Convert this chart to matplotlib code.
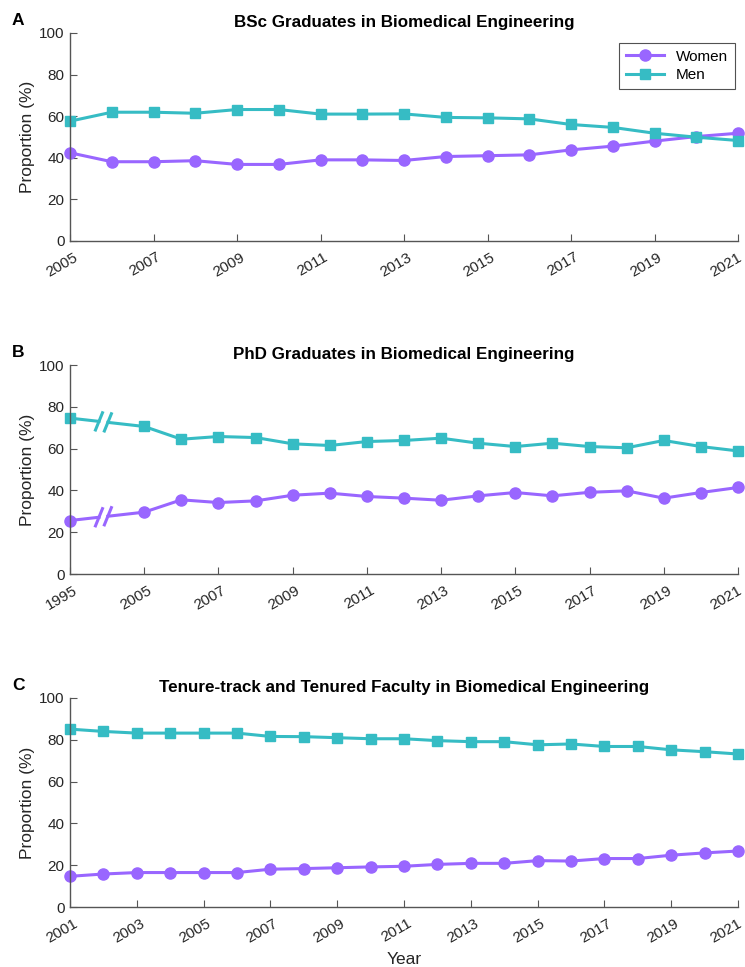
import numpy as np
import matplotlib
matplotlib.use("Agg")
import matplotlib.pyplot as plt
import matplotlib.transforms as mtransforms

plt.rcParams['font.family'] = ['Liberation Sans', 'DejaVu Sans']

purple = '#9966FF'
teal = '#36BCC4'

# panel A: BSc graduates
bsc_years = list(range(2005, 2022))
bsc_women = [42.4, 38.1, 38.1, 38.6, 36.8, 36.8, 39.0, 39.0, 38.7, 40.6, 41.0, 41.4, 43.8, 45.6, 48.0, 50.2, 51.8]
bsc_men = [57.6, 61.9, 61.9, 61.4, 63.2, 63.2, 61.0, 61.0, 61.1, 59.4, 59.2, 58.7, 56.0, 54.6, 51.8, 49.9, 48.3]

# panel B: PhD graduates (1995, then 2005-2021, axis broken)
phd_years = [1995] + list(range(2005, 2022))
phd_women = [25.6, 29.6, 35.5, 34.2, 35.0, 37.7, 38.7, 37.1, 36.3, 35.3, 37.4, 39.0, 37.4, 39.1, 39.8, 36.3, 39.0, 41.4]
phd_men = [74.6, 70.6, 64.5, 65.8, 65.3, 62.3, 61.5, 63.4, 63.9, 65.0, 62.6, 61.0, 62.6, 61.0, 60.4, 63.9, 61.0, 58.9]

# panel C: tenure-track and tenured faculty
fac_years = list(range(2001, 2022))
fac_women = [14.7, 15.8, 16.5, 16.5, 16.5, 16.5, 18.1, 18.4, 18.8, 19.2, 19.5, 20.4, 20.9, 20.9, 22.2, 22.0, 23.2, 23.2, 24.8, 25.9, 26.8]
fac_men = [85.1, 84.0, 83.2, 83.2, 83.2, 83.2, 81.6, 81.5, 81.0, 80.5, 80.5, 79.6, 79.1, 79.1, 77.6, 78.0, 76.8, 76.8, 75.2, 74.3, 73.2]

lw = 2.2
wkw = dict(color=purple, marker='o', markersize=8, linewidth=lw, clip_on=False, label='Women')
mkw = dict(color=teal, marker='s', markersize=6.5, linewidth=lw, clip_on=False, label='Men')
gray = '#262626'


def style(ax, title, letter):
    ax.set_ylim(0, 100)
    ax.set_yticks(range(0, 101, 20))
    for s in ['top', 'right']:
        ax.spines[s].set_visible(False)
    for s in ['left', 'bottom']:
        ax.spines[s].set_color('#555555')
        ax.spines[s].set_linewidth(1.0)
    ax.tick_params(direction='in', length=5, color='#555555', labelcolor=gray, labelsize=11)
    ax.tick_params(axis='x', pad=6.5)
    ax.tick_params(axis='y', pad=4)
    labs = ax.get_xticklabels()
    for i, lab in enumerate(labs):
        dx = 3 if i < len(labs) - 1 else -1
        shift = mtransforms.ScaledTranslation(dx / 100, 0, fig.dpi_scale_trans)
        lab.set_rotation(30)
        lab.set_ha('right')
        lab.set_va('top')
        lab.set_rotation_mode('anchor')
        lab.set_transform(lab.get_transform() + shift)
    ax.set_ylabel('Proportion (%)', fontsize=12.5, color=gray, labelpad=3)
    ax.set_title(title, fontsize=12.25, fontweight='bold', pad=4.5)
    pos = ax.get_position()
    fig.text(0.016, pos.y1 + 0.0128, letter, fontsize=12.5, fontweight='bold', va='center')


fig = plt.figure(figsize=(7.45, 9.67), dpi=100)
axA = fig.add_axes([0.094, 0.7508, 0.8966, 0.2151])
axB = fig.add_axes([0.094, 0.4064, 0.8966, 0.2161])
axC = fig.add_axes([0.094, 0.0620, 0.8966, 0.2162])

# A
axA.plot(bsc_years, bsc_women, **wkw)
axA.plot(bsc_years, bsc_men, **mkw)
axA.set_xlim(2005, 2021)
axA.set_xticks(bsc_years[::2])
axA.set_xticklabels([str(y) for y in bsc_years[::2]])
leg = axA.legend(loc='upper right', bbox_to_anchor=(0.9955, 0.952), borderaxespad=0,
                 fontsize=11, frameon=True, fancybox=False, edgecolor='#262626',
                 handlelength=2.5, borderpad=0.45, labelspacing=0.3, handletextpad=0.8)
leg.get_frame().set_linewidth(0.8)
style(axA, 'BSc Graduates in Biomedical Engineering', 'A')

# B with broken x axis between 1995 and 2005
phd_pos = [0] + [y - 2003 for y in phd_years[1:]]


def broken(ax, xs, ys, color):
    g0, g1 = 0.78, 1.02
    x0, x1, y0, y1 = xs[0], xs[1], ys[0], ys[1]
    ya = y0 + (y1 - y0) * (g0 - x0) / (x1 - x0)
    yb = y0 + (y1 - y0) * (g1 - x0) / (x1 - x0)
    ax.plot([x0, g0], [y0, ya], color=color, linewidth=lw, clip_on=False)
    ax.plot([g1, x1], [yb, y1], color=color, linewidth=lw, clip_on=False)
    for gx, gy in [(g0, ya), (g1, yb)]:
        ax.plot([gx - 0.11, gx + 0.11], [gy - 4.8, gy + 4.8], color=color, linewidth=lw,
                solid_capstyle='butt', clip_on=False)


broken(axB, phd_pos, phd_women, purple)
broken(axB, phd_pos, phd_men, teal)
axB.plot(phd_pos[1:], phd_women[1:], **wkw)
axB.plot(phd_pos[1:], phd_men[1:], **mkw)
axB.plot(phd_pos[:1], phd_women[:1], color=purple, marker='o', markersize=8, linestyle='none', clip_on=False)
axB.plot(phd_pos[:1], phd_men[:1], color=teal, marker='s', markersize=6.5, linestyle='none', clip_on=False)
axB.set_xlim(0, 18)
axB.set_xticks(phd_pos[:1] + phd_pos[1::2])
axB.set_xticklabels([str(phd_years[0])] + [str(y) for y in phd_years[1::2]])
style(axB, 'PhD Graduates in Biomedical Engineering', 'B')

# C
axC.plot(fac_years, fac_women, **wkw)
axC.plot(fac_years, fac_men, **mkw)
axC.set_xlim(2001, 2021)
axC.set_xticks(fac_years[::2])
axC.set_xticklabels([str(y) for y in fac_years[::2]])
axC.set_xlabel('Year', fontsize=12.5, color=gray, labelpad=5)
style(axC, 'Tenure-track and Tenured Faculty in Biomedical Engineering', 'C')

fig.savefig('out.png', dpi=100)
